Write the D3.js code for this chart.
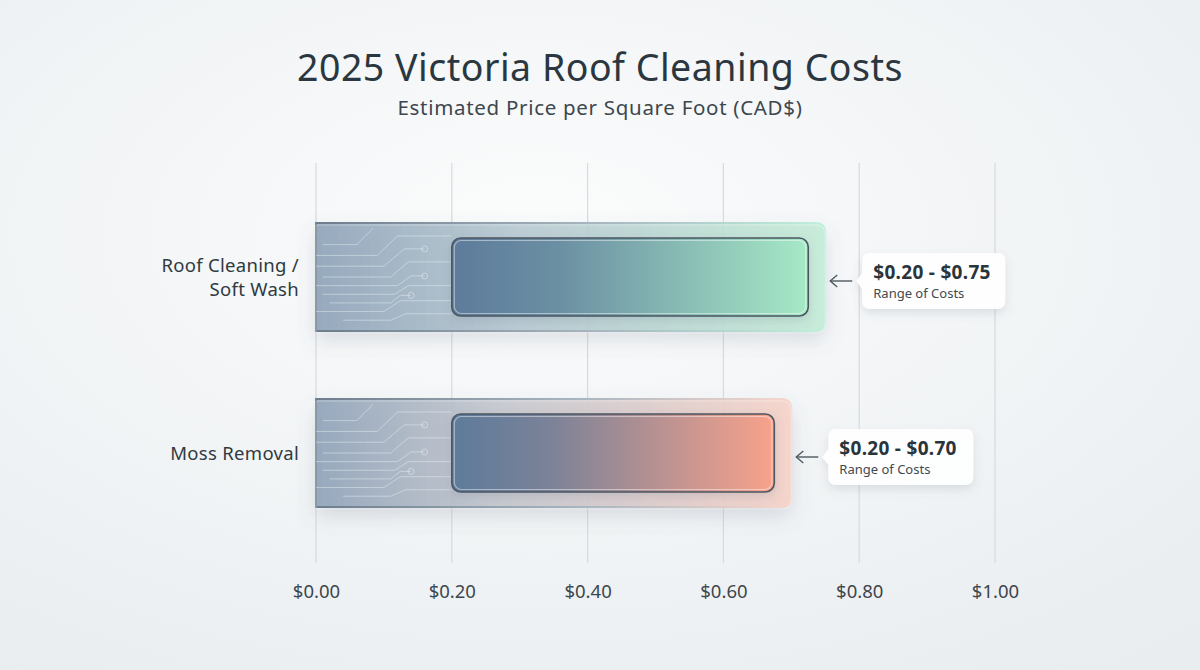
<!DOCTYPE html>
<html><head><meta charset="utf-8">
<script src="https://cdn.jsdelivr.net/npm/d3@7"></script>
<style>
html,body{margin:0;padding:0;}
body{width:1200px;height:670px;overflow:hidden;}
svg text{font-family:"Noto Sans","Open Sans",sans-serif;}
</style></head>
<body>
<svg id="chart" width="1200" height="670"></svg>
<script>
const categories = ["Roof Cleaning / Soft Wash", "Moss Removal"];
const categoryLines = [["Roof Cleaning /", "Soft Wash"], ["Moss Removal"]];
const lowValues = [0.20, 0.20];
const highValues = [0.75, 0.70];
const rangeLabels = ["$0.20 - $0.75", "$0.20 - $0.70"];
const tickValues = [0, 0.2, 0.4, 0.6, 0.8, 1.0];
const title = "2025 Victoria Roof Cleaning Costs";
const subtitle = "Estimated Price per Square Foot (CAD$)";

const palettes = [
  {outerL:"#93a6bb", outerM:"#b3c6cf", outerR:"#c4ecd7", innerL:"#5e7b9b", innerR:"#a6e9c6", edge:"#bff0dc"},
  {outerL:"#93a6bb", outerM:"#c3c5cc", outerR:"#f6d2c8", innerL:"#5e7b9b", innerR:"#f9a28b", edge:"#f7d6cd"}
];

const svg = d3.select("#chart");
const defs = svg.append("defs");

// background
const bg = defs.append("radialGradient").attr("id","bg").attr("cx","0.45").attr("cy","0.35").attr("r","0.8");
bg.append("stop").attr("offset","0%").attr("stop-color","#fbfcfc");
bg.append("stop").attr("offset","100%").attr("stop-color","#e9edf0");
svg.append("rect").attr("width",1200).attr("height",670).attr("fill","url(#bg)");

const shadow = defs.append("filter").attr("id","shadow").attr("x","-20%").attr("y","-30%").attr("width","140%").attr("height","180%");
shadow.append("feDropShadow").attr("dx",0).attr("dy",9).attr("stdDeviation",10).attr("flood-color","#5a6a80").attr("flood-opacity",0.22);
const shadow2 = defs.append("filter").attr("id","shadow2").attr("x","-30%").attr("y","-40%").attr("width","160%").attr("height","200%");
shadow2.append("feDropShadow").attr("dx",0).attr("dy",4).attr("stdDeviation",5).attr("flood-color","#5a6a80").attr("flood-opacity",0.18);
const blur = defs.append("filter").attr("id","glow").attr("x","-20%").attr("y","-200%").attr("width","140%").attr("height","500%");
blur.append("feGaussianBlur").attr("stdDeviation",2);

const x = d3.scaleLinear().domain([0,1]).range([316,995]);
const y = d3.scalePoint().domain(categories).range([277,453]);
const outerH = 108, innerH = 78, innerInset = 17;

// titles
svg.append("text").attr("x",600).attr("y",81).attr("text-anchor","middle")
  .attr("font-size",37.5).attr("fill","#2b3740").attr("letter-spacing","0.5").text(title);
svg.append("text").attr("x",600).attr("y",115).attr("text-anchor","middle")
  .attr("font-size",20.5).attr("fill","#3c474e").attr("letter-spacing","0.7").text(subtitle);

// grid
svg.append("g").selectAll("line").data(tickValues).join("line")
  .attr("x1",d=>x(d)).attr("x2",d=>x(d)).attr("y1",163).attr("y2",563)
  .attr("stroke","#d6dbdf").attr("stroke-width",1.2);

// axis
const axis = d3.axisBottom(x).tickValues(tickValues).tickFormat(d3.format("$.2f")).tickSize(0).tickPadding(0);
const ag = svg.append("g").attr("transform","translate(0,598)").call(axis);
ag.select(".domain").remove();
ag.selectAll("text").attr("font-size",18.5).attr("fill","#3d464c").attr("dy",0)
  .style("font-family","'Noto Sans',sans-serif");

// bars
categories.forEach((c,i)=>{
  const p = palettes[i];
  const cy = y(c);
  const x0 = x(0), x1 = x(highValues[i]);
  const ix0 = x(lowValues[i]), ix1 = x(highValues[i]) - innerInset;

  const og = defs.append("linearGradient").attr("id","og"+i).attr("x1",0).attr("x2",1);
  og.append("stop").attr("offset","0%").attr("stop-color",p.outerL).attr("stop-opacity",0.95);
  og.append("stop").attr("offset","40%").attr("stop-color",p.outerM).attr("stop-opacity",0.85);
  og.append("stop").attr("offset","100%").attr("stop-color",p.outerR).attr("stop-opacity",0.9);
  const ig = defs.append("linearGradient").attr("id","ig"+i).attr("x1",0).attr("x2",1);
  ig.append("stop").attr("offset","0%").attr("stop-color",p.innerL);
  ig.append("stop").attr("offset","30%").attr("stop-color",d3.interpolateRgb(p.innerL,p.innerR)(0.18));
  ig.append("stop").attr("offset","100%").attr("stop-color",p.innerR);
  const bd = defs.append("linearGradient").attr("id","bd"+i).attr("x1",0).attr("x2",1);
  bd.append("stop").attr("offset","0%").attr("stop-color","#6d7d8c");
  bd.append("stop").attr("offset","55%").attr("stop-color","#a7b6c0");
  bd.append("stop").attr("offset","100%").attr("stop-color",p.edge);
  const gl = defs.append("linearGradient").attr("id","gl"+i).attr("x1",0).attr("x2",1);
  gl.append("stop").attr("offset","0%").attr("stop-color","#ffffff").attr("stop-opacity",0);
  gl.append("stop").attr("offset","55%").attr("stop-color","#ffffff").attr("stop-opacity",0.9);
  gl.append("stop").attr("offset","100%").attr("stop-color","#ffffff").attr("stop-opacity",0);

  const g = svg.append("g");
  const top = cy - outerH/2, r = 10;
  const outerPath = `M${x0},${top} H${x1-r} Q${x1},${top} ${x1},${top+r} V${top+outerH-r} Q${x1},${top+outerH} ${x1-r},${top+outerH} H${x0} Z`;
  g.append("path").attr("d",outerPath).attr("fill","url(#og"+i+")").attr("filter","url(#shadow)");
  g.append("path").attr("d",outerPath).attr("fill","none").attr("stroke","url(#bd"+i+")").attr("stroke-width",1.8);
  g.append("path").attr("d",outerPath).attr("fill","none").attr("stroke","#ffffff").attr("stroke-opacity",0.35)
    .attr("stroke-width",1).attr("transform","translate(0,2)");

  // circuit decoration (relative to bar)
  const cw = ix0 - x0;
  const dg = g.append("g").attr("transform",`translate(${x0},${top})`)
    .attr("fill","none").attr("stroke","#eef3f7").attr("stroke-opacity",0.45).attr("stroke-width",1);
  const traces = [
    [[0.05,0.2],[0.3,0.2],[0.42,0.05]],
    [[0.0,0.3],[0.45,0.3],[0.6,0.12],[1,0.12]],
    [[0.0,0.4],[0.5,0.4],[0.65,0.24],[0.8,0.24]],
    [[0.05,0.5],[0.55,0.5],[0.68,0.36],[1,0.36]],
    [[0.0,0.58],[0.6,0.58],[0.7,0.49],[0.8,0.49]],
    [[0.05,0.66],[0.58,0.66],[0.68,0.58],[1,0.58]],
    [[0.1,0.74],[0.55,0.74],[0.62,0.67],[0.7,0.67]],
    [[0.0,0.82],[0.5,0.82],[0.62,0.72],[1,0.72]],
    [[0.2,0.9],[0.55,0.9],[0.66,0.84],[1,0.84]]
  ];
  dg.selectAll("path").data(traces).join("path")
    .attr("d",d=>d3.line().x(q=>q[0]*cw).y(q=>q[1]*outerH)(d));
  dg.selectAll("circle").data([[0.8,0.24],[0.8,0.49],[0.7,0.67]]).join("circle")
    .attr("cx",d=>d[0]*cw).attr("cy",d=>d[1]*outerH).attr("r",3);

  // inner bar
  const itop = cy - innerH/2;
  g.append("rect").attr("x",ix0).attr("y",itop).attr("width",ix1-ix0).attr("height",innerH)
    .attr("rx",9).attr("fill","url(#ig"+i+")").attr("stroke","#4b5762").attr("stroke-width",1.6)
    .attr("filter","url(#shadow2)");
  g.append("rect").attr("x",ix0+2.5).attr("y",itop+2.5).attr("width",ix1-ix0-5).attr("height",innerH-5)
    .attr("rx",7).attr("fill","none").attr("stroke","#ffffff").attr("stroke-opacity",0.45).attr("stroke-width",1.2);
  g.append("line").attr("x1",ix0+30).attr("x2",ix1-35).attr("y1",cy).attr("y2",cy)
    .attr("stroke","url(#gl"+i+")").attr("stroke-width",4).attr("filter","url(#glow)");
  g.append("line").attr("x1",ix0+30).attr("x2",ix1-35).attr("y1",cy).attr("y2",cy)
    .attr("stroke","url(#gl"+i+")").attr("stroke-width",1.2);

  // category label
  const lines = categoryLines[i];
  const lt = svg.append("text").attr("text-anchor","end").attr("font-size",18.5).attr("fill","#2f3a41")
    .attr("letter-spacing","0.3");
  lines.forEach((l,k)=>{
    lt.append("tspan").attr("x",299).attr("y",cy + 7 + (k - (lines.length-1)/2)*24).text(l);
  });

  // annotation
  const ax0 = x1 + 5, ax1 = ax0 + 22;
  svg.append("line").attr("x1",ax0).attr("x2",ax1).attr("y1",cy+4).attr("y2",cy+4)
    .attr("stroke","#4f5a62").attr("stroke-width",1.4);
  svg.append("path").attr("d",`M${ax0+7},${cy-2} L${ax0},${cy+4} L${ax0+7},${cy+10}`)
    .attr("fill","none").attr("stroke","#4f5a62").attr("stroke-width",1.4);
  const bx = ax1 + 10, bw = i===0 ? 143 : 145, bh = 56, by = cy - 24;
  const cg = svg.append("g");
  cg.append("path")
    .attr("d",`M${bx+8},${by} H${bx+bw-8} Q${bx+bw},${by} ${bx+bw},${by+8} V${by+bh-8} Q${bx+bw},${by+bh} ${bx+bw-8},${by+bh} H${bx+8} Q${bx},${by+bh} ${bx},${by+bh-8} V${cy+12} L${bx-6},${cy+4} L${bx},${cy-4} V${by+8} Q${bx},${by} ${bx+8},${by} Z`)
    .attr("fill","#ffffff").attr("fill-opacity",0.95).attr("filter","url(#shadow2)");
  cg.append("text").attr("x",bx+11).attr("y",by+26).attr("font-size",19).attr("font-weight",700)
    .attr("fill","#2a343b").attr("letter-spacing","0.3").text(rangeLabels[i]);
  cg.append("text").attr("x",bx+11).attr("y",by+45).attr("font-size",13).attr("fill","#3f4a51").text("Range of Costs");
});
</script>
</body></html>
